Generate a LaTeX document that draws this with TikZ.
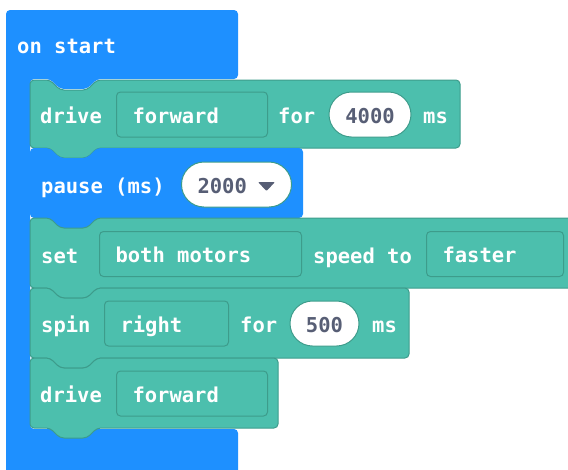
\documentclass[tikz,border=0pt]{standalone}
\usepackage{fontspec}
\newfontfamily\blkfont{DejaVu Sans Mono Bold}
\usetikzlibrary{positioning}
\definecolor{startblue}{HTML}{1E90FF}
\definecolor{motorgreen}{HTML}{4CBFAD}
\definecolor{motoredge}{HTML}{3D9C8B}
\definecolor{numgrey}{HTML}{575E75}

\tikzset{
  lbl/.style={anchor=base west,inner sep=0,text=white,font=\blkfont\fontsize{20.5}{24}\selectfont},
  dropbox/.style={anchor=west,draw=motoredge,fill=motorgreen,line width=1,rounded corners=4,
    minimum height=45,inner xsep=16,inner ysep=0,text height=17,text depth=0,
    text=white,font=\blkfont\fontsize{20.5}{24}\selectfont},
  numpill/.style={draw=motoredge,fill=white,line width=1,rounded corners=22.5,
    minimum height=45,inner xsep=0,inner ysep=0,text height=17,text depth=0,
    text=numgrey,font=\blkfont\fontsize{20.5}{24}\selectfont},
  greenblk/.style={fill=motorgreen,draw=motoredge,line width=1,rounded corners=4},
  blueblk/.style={fill=startblue,rounded corners=4},
}
% stack block outline: top, right, bottom (left edge always at 30)
\newcommand{\blkshape}[3]{(30,#1) -- (50,#1) -- (60,#1+10) -- (87,#1+10) -- (97,#1) -- (#2,#1)
  -- (#2,#3) -- (97,#3) -- (87,#3+10) -- (60,#3+10) -- (50,#3) -- (30,#3) -- cycle}
% text of a field, left aligned in a fixed width
\newcommand{\fieldtext}[2]{\makebox[#1pt][l]{#2}}

\begin{document}
\begin{tikzpicture}[x=1pt,y=-1pt]
\useasboundingbox (0,0) rectangle (568,469);
\clip (0,0) rectangle (568,469);

% on start
\fill[blueblk] (6,10) -- (238,10) -- (238,79) -- (97,79) -- (87,89) -- (60,89) -- (50,79) -- (30,79)
  -- (30,429) -- (238,429) -- (238,490) -- (6,490) -- cycle;
\node[lbl] (onstart) at (17,53) {on start};

% drive forward for 4000 ms
\filldraw[greenblk] \blkshape{80}{460}{148};
\node[lbl] (driveA) at (40,123) {drive};
\node[dropbox] (dirA) at (116,114.5) {\fieldtext{119}{forward}};
\node[lbl] (forA) at (278,123) {for};
\node[numpill,minimum width=82] (timeA) at (370,114.5) {4000};
\node[lbl] (msA) at (423,123) {ms};

% pause (ms)
\fill[blueblk] \blkshape{148}{303}{218};
\node[lbl] (pause) at (41,193) {pause (ms)};
\node[numpill,anchor=west,inner xsep=16] (pauseval) at (181,184.5) {\fieldtext{78}{2000}};
\fill[numgrey,rounded corners=1] (258,182) -- (275,182) -- (266.5,191) -- cycle;

% set both motors speed to faster
\filldraw[greenblk] \blkshape{218}{590}{288};
\node[lbl] (set) at (41,263) {set};
\node[dropbox] (motors) at (99,254) {\fieldtext{170}{both motors}};
\node[lbl] (speedto) at (313,263) {speed to};
\node[dropbox] (speed) at (426,254) {\fieldtext{105}{faster}};

% spin right for 500 ms
\filldraw[greenblk] \blkshape{288}{409}{358};
\node[lbl] (spin) at (41,332) {spin};
\node[dropbox] (turn) at (104,323.5) {\fieldtext{92}{right}};
\node[lbl] (forB) at (240,332) {for};
\node[numpill,minimum width=69] (timeB) at (324.5,323.5) {500};
\node[lbl] (msB) at (372,332) {ms};

% drive forward
\filldraw[greenblk] \blkshape{358}{278}{428};
\node[lbl] (driveB) at (40,402) {drive};
\node[dropbox] (dirB) at (116,393.5) {\fieldtext{119}{forward}};
\end{tikzpicture}
\end{document}
